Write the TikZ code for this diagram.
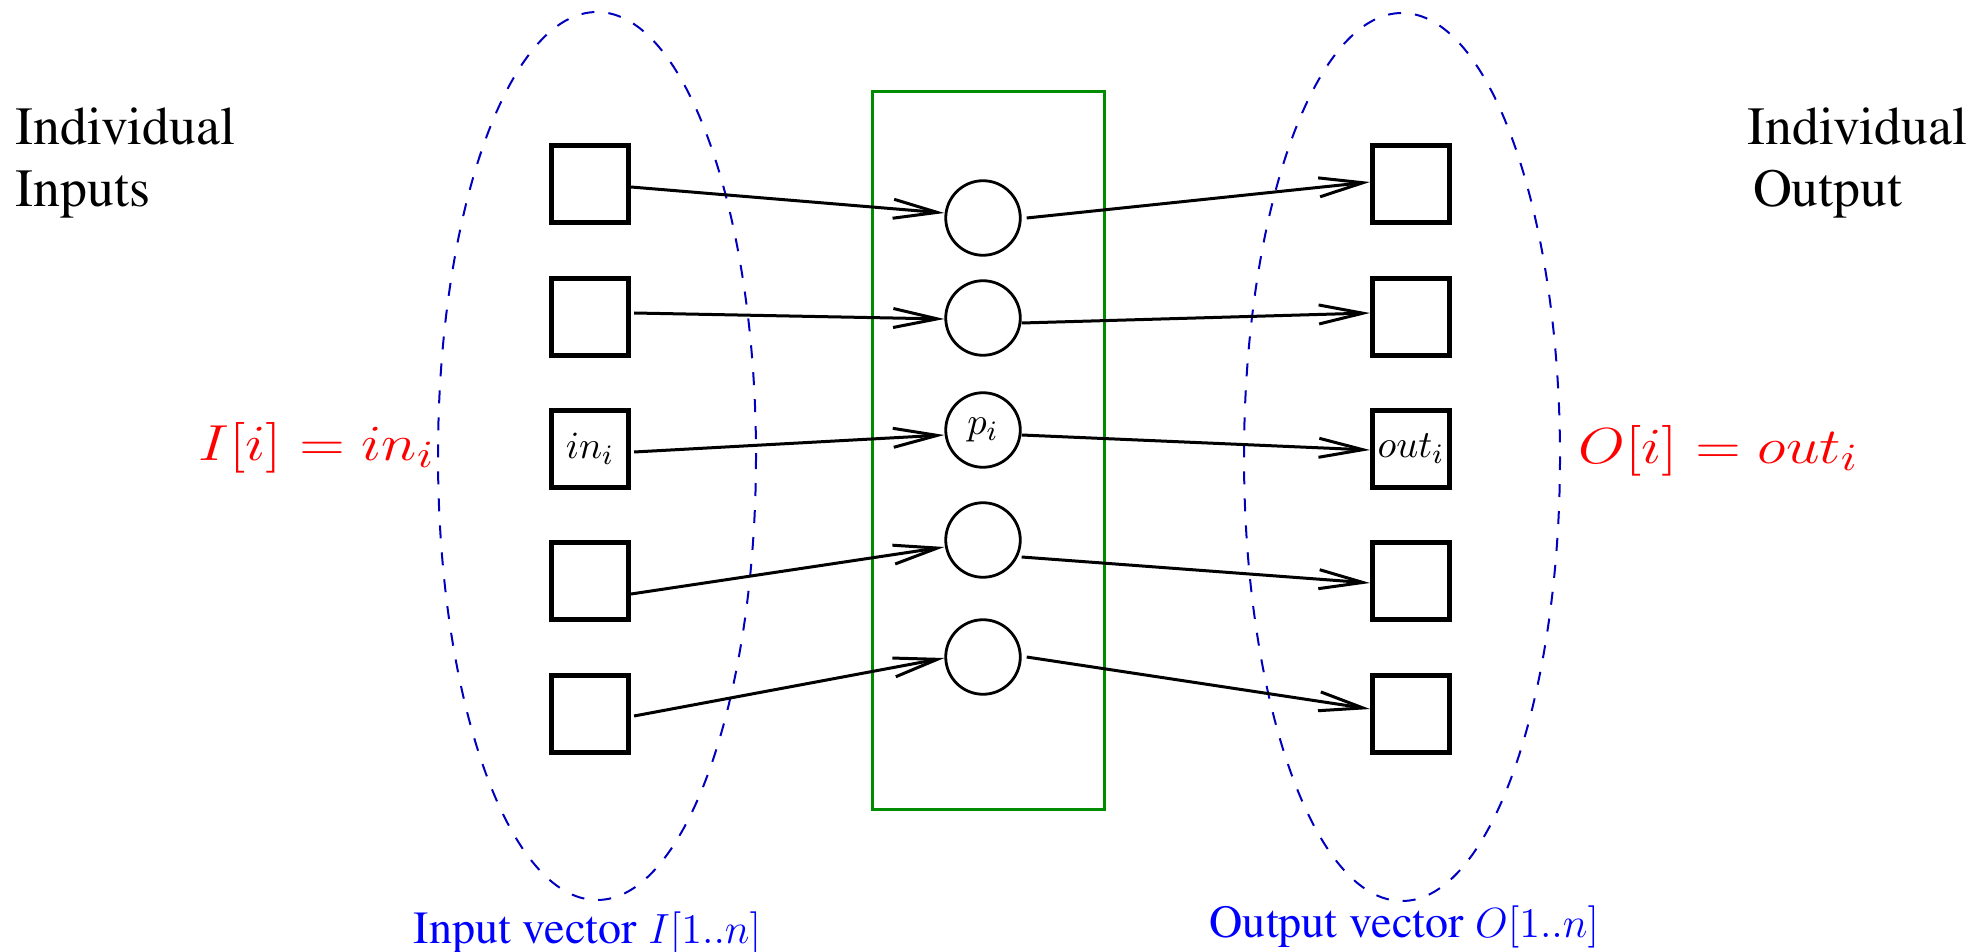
\documentclass[tikz,border=0pt]{standalone}
\usepackage[T1]{fontenc}
\renewcommand{\rmdefault}{ptm}
\usepackage{graphicx}
\usetikzlibrary{arrows.meta,calc}
\definecolor{figblue}{RGB}{0,0,190}
\definecolor{figgreen}{RGB}{0,140,0}
\begin{document}
\begin{tikzpicture}[x=0.01cm,y=-0.01cm,
  vecbox/.style={draw,line width=0.05cm,minimum size=0.77cm,inner sep=0pt,font=\fontsize{11pt}{13pt}\selectfont},
  procnode/.style={draw,circle,line width=0.028cm,minimum size=0.745cm,inner sep=0pt,font=\fontsize{11pt}{13pt}\selectfont},
  arr/.style={line width=0.03cm,-{Straight Barb[length=0.44cm,width=0.19cm]}},
  grp/.style={draw=figblue,line width=0.02cm,dash pattern=on 0.13cm off 0.14cm},
  sidetext/.style={font=\fontsize{15.3pt}{17.9pt}\selectfont,align=left,inner sep=0pt,anchor=base west},
  redlabel/.style={text=red,font=\fontsize{15.5pt}{17pt}\selectfont,inner sep=0pt,anchor=base west},
  bluelabel/.style={text=blue,font=\fontsize{13.1pt}{15pt}\selectfont,inner sep=0pt,anchor=base west}]
\useasboundingbox (0,0) rectangle (1988,952);

% groups
\draw[grp] (597,456) ellipse [x radius=159, y radius=444];
\draw[grp] (1402,457) ellipse [x radius=158, y radius=444];

% processing box
\node[draw=figgreen,line width=0.03cm,minimum width=2.31cm,minimum height=7.17cm,inner sep=0pt] (layer) at (988.5,450.5) {};

% input boxes
\node[vecbox] (i1) at (590,184) {};
\node[vecbox] (i2) at (590,317) {};
\node[vecbox] (i3) at (590,449) {$in_i$};
\node[vecbox] (i4) at (590,581) {};
\node[vecbox] (i5) at (590,714) {};

% processors
\node[procnode] (c1) at (983,218) {};
\node[procnode] (c2) at (983,318) {};
\node[procnode] (c3) at (983,430) {$p_i$};
\node[procnode] (c4) at (983,540) {};
\node[procnode] (c5) at (983,657) {};

% output boxes
\node[vecbox] (o1) at (1411,184) {};
\node[vecbox] (o2) at (1411,317) {};
\node[vecbox] (o3) at (1411,449) {$out_i$};
\node[vecbox] (o4) at (1411,581) {};
\node[vecbox] (o5) at (1411,714) {};

% input arrows
\draw[arr] ($(i1.east)+(0,3)$) -- ($(c1.west)+(0,-5)$);
\draw[arr] ($(i2.east)+(3,-4)$) -- ($(c2.west)+(0,1)$);
\draw[arr] ($(i3.east)+(3,3)$) -- ($(c3.west)+(0,5)$);
\draw[arr] ($(i4.east)+(0,13)$) -- ($(c4.west)+(0,7)$);
\draw[arr] ($(i5.east)+(3,2)$) -- ($(c5.west)+(0,1)$);

% output arrows
\draw[arr] ($(c1.east)+(5,0)$) -- ($(o1.west)+(0,-2)$);
\draw[arr] ($(c2.east)+(0,5)$) -- ($(o2.west)+(0,-4)$);
\draw[arr] ($(c3.east)+(0,5)$) -- ($(o3.west)+(0,1)$);
\draw[arr] ($(c4.east)+(0,17)$) -- ($(o4.west)+(0,2)$);
\draw[arr] ($(c5.east)+(5,0)$) -- ($(o5.west)+(0,-5)$);

% side texts
\node[sidetext] (tin) at (15,207) {Individual\\Inputs};
\node[sidetext] (tout) at (1747,207) {Individual\\\hspace{0.1em}Output};

% red labels
\node[redlabel] (lin) at (198,460) {\scalebox{1.19}[1]{$I[i] = in_i$}};
\node[redlabel] (lout) at (1578,463) {\scalebox{1.19}[1]{$O[i] = out_i$}};

% blue labels
\node[bluelabel] (vin) at (413,943) {Input vector $I[1..n]$};
\node[bluelabel] (vout) at (1209,937) {Output vector $O[1..n]$};
\end{tikzpicture}
\end{document}
